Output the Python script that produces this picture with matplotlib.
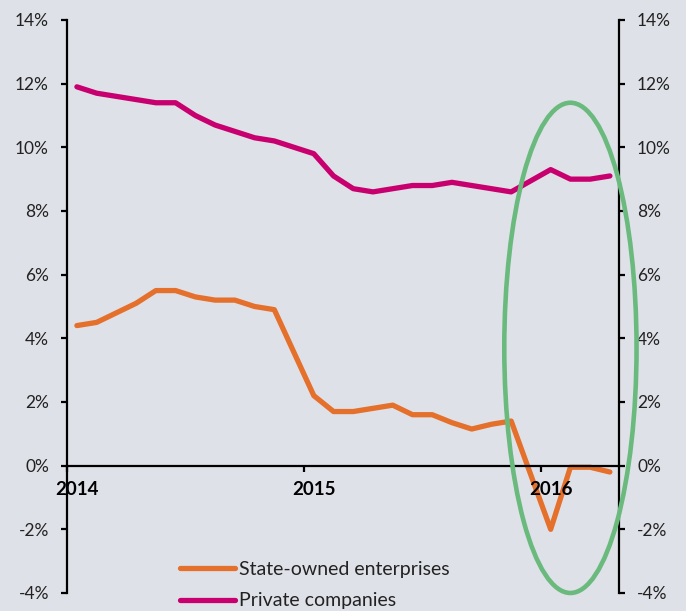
# SOE vs private companies growth, monthly 2014-2016
import matplotlib.pyplot as plt
from matplotlib.patches import Ellipse

plt.rcParams['font.family'] = ['Lato', 'DejaVu Sans']

# month index 0 = Jan 2014
months = list(range(28))
state_owned = [4.4, 4.5, 4.8, 5.1, 5.5, 5.5, 5.3, 5.2, 5.2, 5.0, 4.9, 3.55,
               2.2, 1.7, 1.7, 1.8, 1.9, 1.6, 1.6, 1.35, 1.15, 1.3, 1.4, -0.3,
               -2.0, -0.05, -0.05, -0.2]
private = [11.9, 11.7, 11.6, 11.5, 11.4, 11.4, 11.0, 10.7, 10.5, 10.3, 10.2, 10.0,
           9.8, 9.1, 8.7, 8.6, 8.7, 8.8, 8.8, 8.9, 8.8, 8.7, 8.6, 8.95,
           9.3, 9.0, 9.0, 9.1]
year_labels = ['2014', '2015', '2016']
year_label_pos = [0, 12, 24]
year_ticks = [-0.5, 11.5, 23.5]
y_ticks = [-4, -2, 0, 2, 4, 6, 8, 10, 12, 14]

bg = '#dfe1e8'
fig = plt.figure(figsize=(6.86, 6.11), dpi=100, facecolor=bg)
ax = fig.add_axes([0.0977, 0.0295, 0.8046, 0.9378], facecolor=bg)
ax.set_axisbelow(False)  # year labels sit on top of the lines

ax.plot(months, state_owned, color='#e4702b', lw=3.8, solid_capstyle='round',
        solid_joinstyle='round', label='State-owned enterprises')
ax.plot(months, private, color='#c8006f', lw=3.8, solid_capstyle='round',
        solid_joinstyle='round', label='Private companies')

# green highlight ellipse, drawn above everything
ell = Ellipse((25, 3.7), 6.7, 15.4, fill=False, edgecolor='#6aba7e', lw=3.3,
              clip_on=False, zorder=5)
ax.add_patch(ell)

ax.set_xlim(-0.5, 27.46)
ax.set_ylim(-4, 14)

# spines
ax.spines['top'].set_visible(False)
ax.spines['bottom'].set_position(('data', 0))
for s in ['left', 'right', 'bottom']:
    ax.spines[s].set_linewidth(1.6)
    ax.spines[s].set_color('black')

# y ticks on both sides
ax.set_yticks(y_ticks)
ax.set_yticklabels([str(v) + '%' for v in y_ticks])
ax.tick_params(axis='y', which='major', left=True, right=True, labelleft=True, labelright=True,
               direction='out', length=4, width=1.6, pad=9, labelsize=12.5, labelcolor='#222222')

# x ticks: marks at year boundaries, labels on January points
ax.set_xticks(year_ticks)
ax.set_xticklabels(['', '', ''])
ax.set_xticks(year_label_pos, minor=True)
ax.set_xticklabels(year_labels, minor=True, fontweight='bold', fontsize=13.5)
ax.tick_params(axis='x', which='major', direction='out', length=4, width=1.6)
ax.tick_params(axis='x', which='minor', length=0, pad=11)

ax.legend(loc='center left', bbox_to_anchor=(0.262, 0.0425), bbox_transform=fig.transFigure,
          frameon=False, fontsize=14, handlelength=2.85, handletextpad=0.2,
          labelspacing=0.75, borderpad=0, borderaxespad=0, labelcolor='#222222')

fig.savefig('out.png', dpi=100, facecolor=bg)
